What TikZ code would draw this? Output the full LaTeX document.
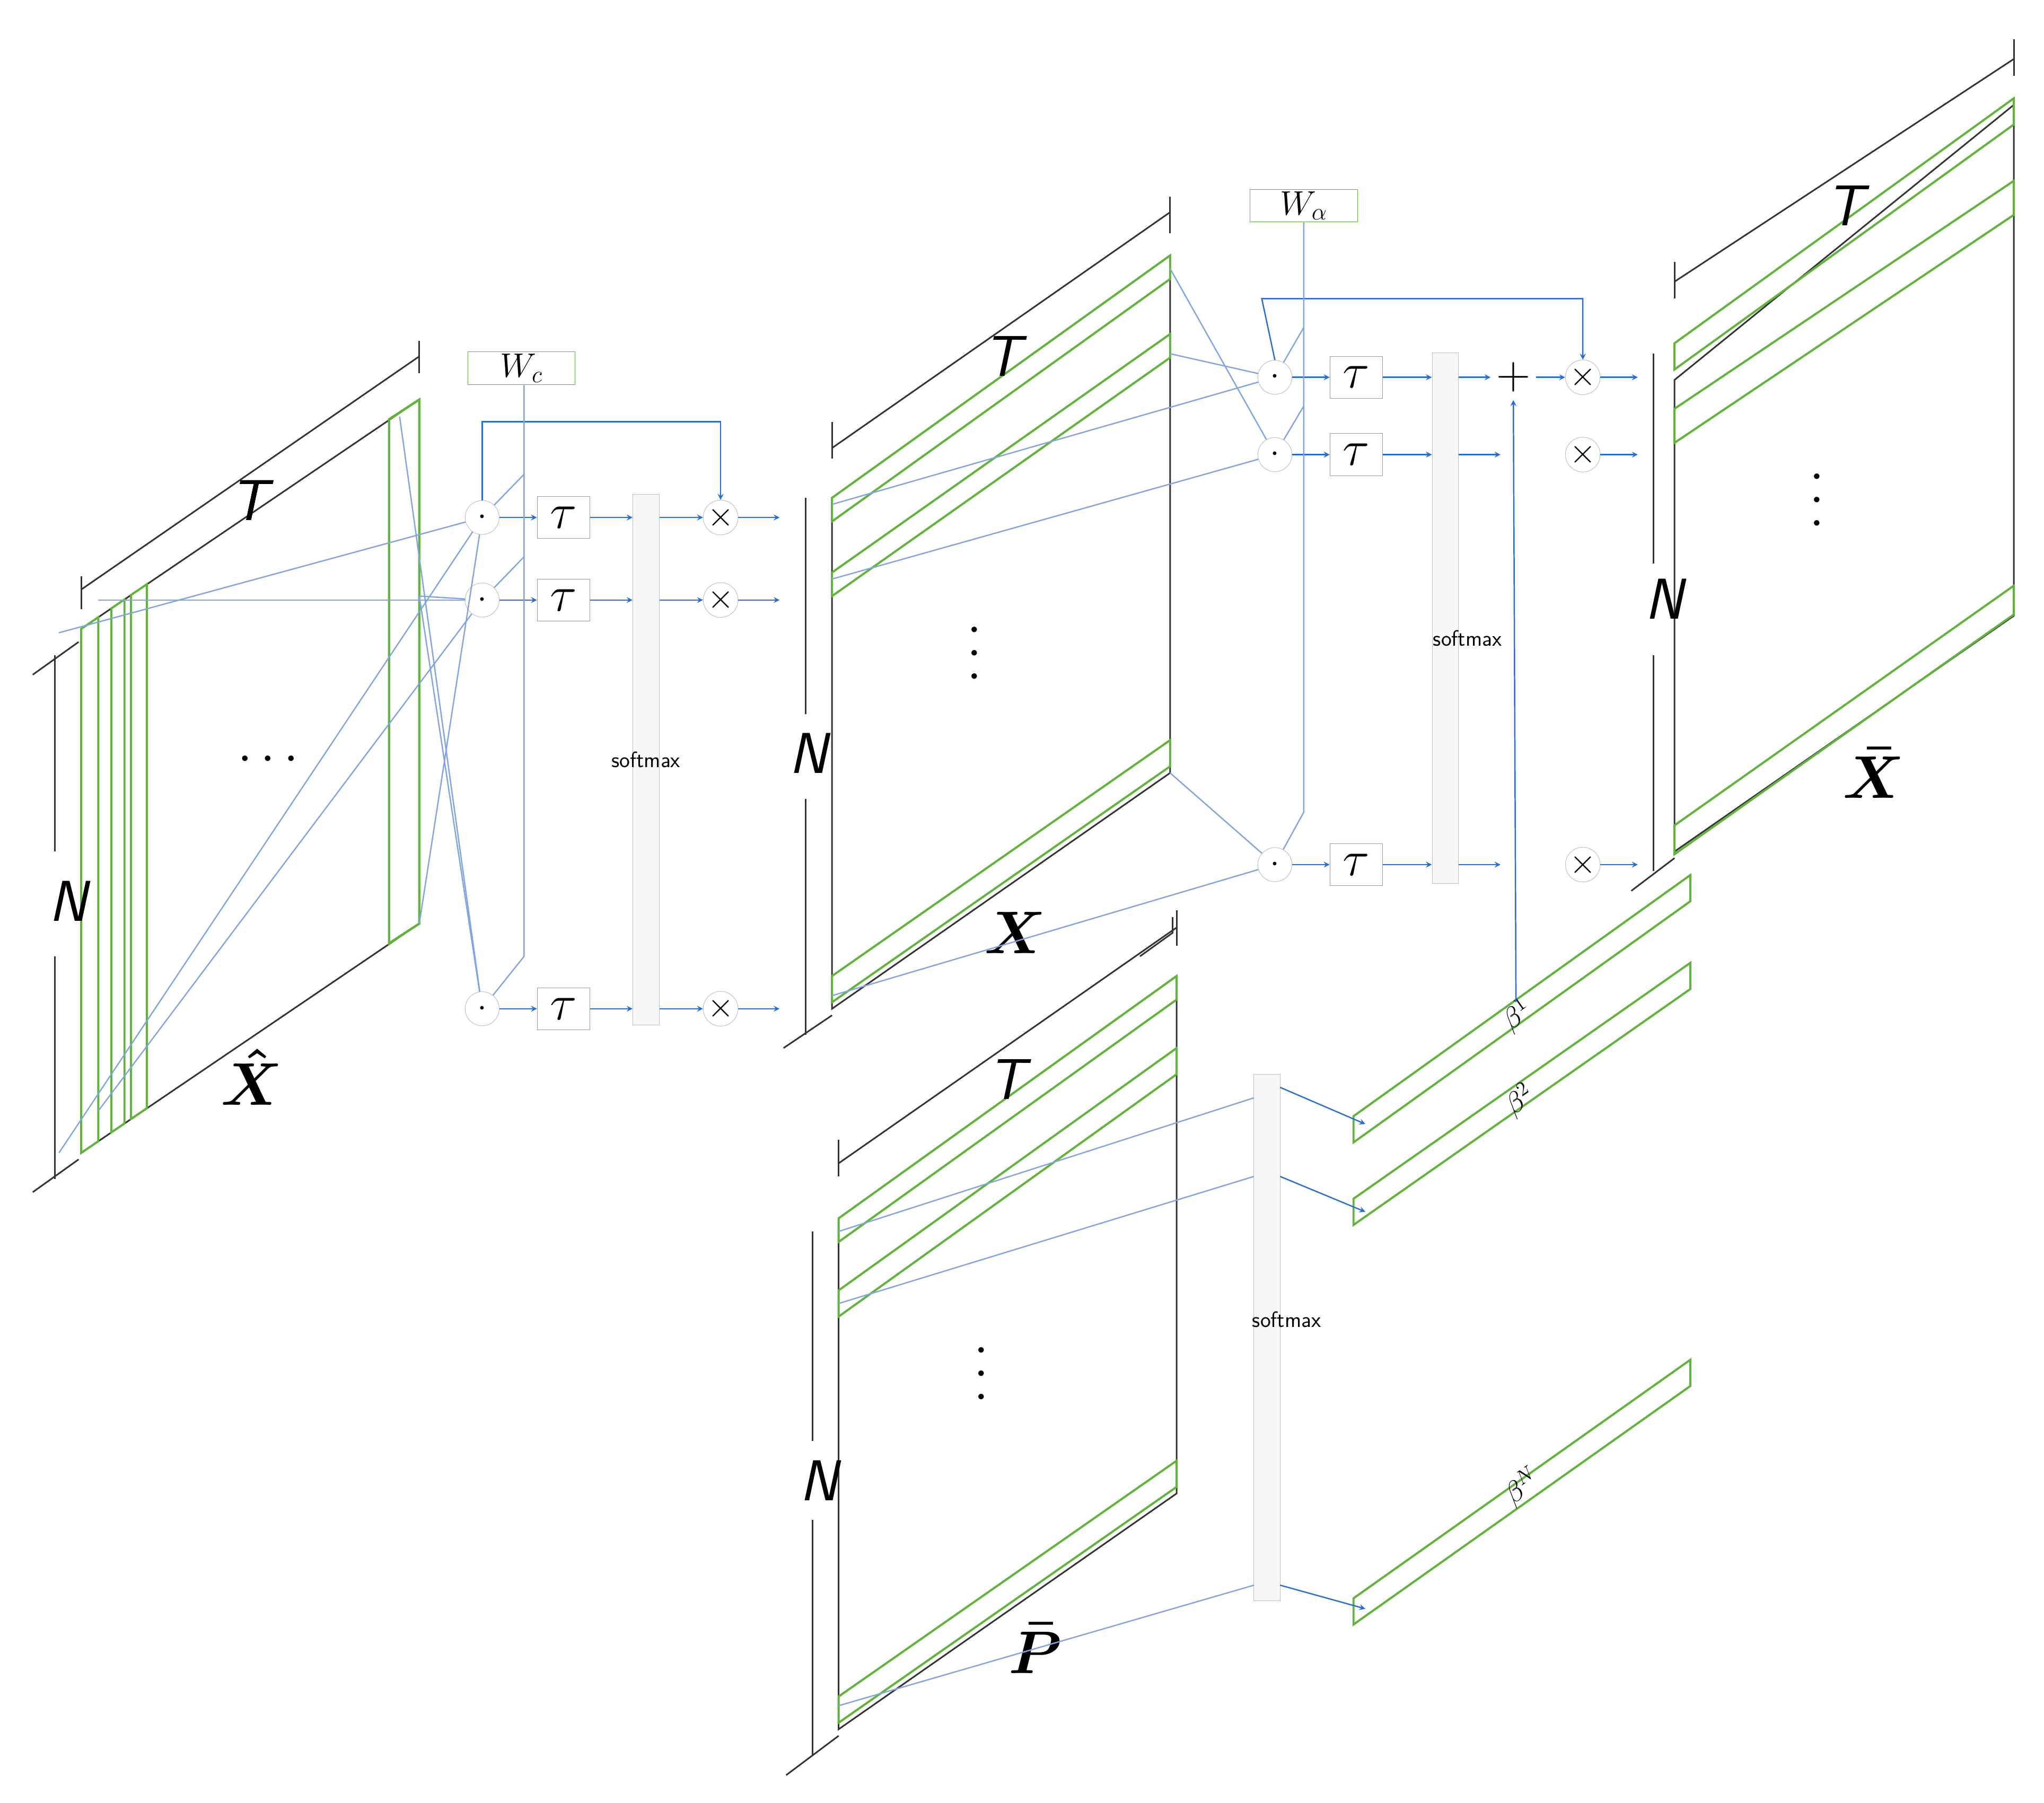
\RequirePackage{fix-cm}
\documentclass[tikz,border=0pt]{standalone}
\usepackage{amsmath}
\usepackage{graphicx}
\usetikzlibrary{calc}
\usetikzlibrary{positioning}
\definecolor{stripgreen}{RGB}{96,180,60}
\definecolor{linkblue}{RGB}{130,165,225}
\definecolor{arrblue}{RGB}{40,110,210}
\newcommand{\gstrip}[5]{\draw[strip] ({#1},{#2}) -- ({#3},{#4}) -- ({#3},{#4+#5}) -- ({#1},{#2+#5}) -- cycle;}
\newcommand{\fs}[1]{\fontsize{#1}{#1}\selectfont}
\newcommand{\vdts}{\rotatebox{90}{$\cdots$}}
\begin{document}
\begin{tikzpicture}[
		x=1pt,y=-1pt,
		>=stealth,
		frame/.style={draw=black!80,line width=1.2pt},
		strip/.style={draw=stripgreen,line width=1.6pt},
		link/.style={draw=linkblue,line width=1pt},
		arr/.style={->,draw=arrblue,line width=1pt},
		op/.style={draw=black!25,fill=white,circle,minimum size=26pt,inner sep=0pt,font=\fs{26}},
		tau/.style={draw=black!40,fill=white,minimum width=40pt,minimum height=32pt,inner sep=0pt,font=\fs{38}},
		bar/.style={draw=black!25,fill=black!3,minimum width=20pt,inner sep=0pt},
		bartext/.style={font=\fs{17}\sffamily,inner sep=0pt},
		wbox/.style={draw=stripgreen,fill=white,minimum width=82pt,minimum height=25pt,inner sep=0pt,font=\fs{26}},
		lab/.style={font=\fs{44}\sffamily\itshape},
		big/.style={font=\fs{46}},
		dots/.style={font=\fs{40},inner sep=0pt},
		beta/.style={font=\fs{22},rotate=35}
	]
	\useasboundingbox (0,0) rectangle (1560,1376);
	% X hat
	\draw[frame] (62,480) -- (320,305) -- (320,705) -- (62,880) -- cycle;
	\draw[frame] (62,450) -- (320,272); \draw[frame] (62,440) -- (62,465); \draw[frame] (320,260) -- (320,285);
	\draw[frame] (42,500) -- (42,650); \draw[frame] (42,730) -- (42,900);
	\draw[frame] (25,515) -- (60,490); \draw[frame] (25,910) -- (60,885);
	\foreach \x/\w in {62/13,85/10,100/12}
		\gstrip{\x}{480-0.68*(\x-62)}{\x+\w}{480-0.68*(\x+\w-62)}{400}
	\gstrip{297}{320}{320}{305}{400}
	\node[lab] (xhT) at (190,382) {T};
	\node[lab] (xhN) at (52,688) {N};
	\node[big] (xhX) at (192,822) {$\boldsymbol{\hat{X}}$};
	\node[dots] at (208,580) {$\cdots$};
	% X
	\draw[frame] (635,380) -- (893,195) -- (893,590) -- (635,770) -- cycle;
	\draw[frame] (635,342) -- (893,162); \draw[frame] (635,322) -- (635,350); \draw[frame] (893,150) -- (893,178);
	\draw[frame] (615,380) -- (615,545); \draw[frame] (615,610) -- (615,790);
	\draw[frame] (598,800) -- (635,775); \draw[frame] (870,730) -- (895,712) -- (895,700);
	\gstrip{635}{380}{893}{195}{18}
	\gstrip{635}{437}{893}{255}{18}
	\gstrip{635}{745}{893}{565}{20}
	\node[lab] (xT) at (765,272) {T};
	\node[lab] (xN) at (617,575) {N};
	\node[big] (xX) at (775,712) {$\boldsymbol{X}$};
	\node[dots] at (745,495) {\vdts};
	% X bar
	\draw[frame] (1278,290) -- (1537,80) -- (1537,470) -- (1278,650) -- cycle;
	\draw[frame] (1278,215) -- (1537,45); \draw[frame] (1278,200) -- (1278,228); \draw[frame] (1537,30) -- (1537,58);
	\draw[frame] (1262,270) -- (1262,430); \draw[frame] (1262,500) -- (1262,665);
	\draw[frame] (1245,680) -- (1278,655);
	\gstrip{1278}{262}{1537}{75}{20}
	\gstrip{1278}{312}{1537}{138}{26}
	\gstrip{1278}{630}{1537}{447}{22}
	\node[lab] (xbT) at (1408,157) {T};
	\node[lab] (xbN) at (1270,457) {N};
	\node[big] (xbX) at (1430,590) {$\boldsymbol{\bar{X}}$};
	\node[dots] at (1388,378) {\vdts};
	% P bar
	\draw[frame] (640,930) -- (898,745) -- (898,1140) -- (640,1320) -- cycle;
	\draw[frame] (640,888) -- (898,708); \draw[frame] (640,870) -- (640,898); \draw[frame] (898,695) -- (898,722);
	\draw[frame] (620,940) -- (620,1100); \draw[frame] (620,1160) -- (620,1340);
	\draw[frame] (600,1355) -- (640,1325);
	\gstrip{640}{930}{898}{745}{18}
	\gstrip{640}{985}{898}{800}{20}
	\gstrip{640}{1295}{898}{1115}{20}
	\node[lab] (pT) at (768,824) {T};
	\node[lab] (pN) at (625,1130) {N};
	\node[big] (pP) at (790,1258) {$\boldsymbol{\bar{P}}$};
	\node[dots] at (750,1045) {\vdts};
	% beta strips
	\gstrip{1033}{852}{1290}{668}{20}
	\gstrip{1033}{915}{1290}{735}{20}
	\gstrip{1033}{1220}{1290}{1038}{20}
	\node[beta] (b1) at (1158,775) {$\beta^1$};
	\node[beta] (b2) at (1160,840) {$\beta^2$};
	\node[beta] (bN) at (1162,1135) {$\beta^N$};
	% left attention
	\node[wbox] (wc) at (398,281) {$W_c$};
	\node[op] (c1) at (368,395) {$\cdot$};
	\node[op] (c2) at (368,458) {$\cdot$};
	\node[op] (c3) at (368,770) {$\cdot$};
	\node[tau] (t1) at (430,395) {$\tau$};
	\node[tau] (t2) at (430,458) {$\tau$};
	\node[tau] (t3) at (430,770) {$\tau$};
	\node[bar,minimum height=405pt] (sm1) at (493,580) {};
	\node[bartext] at (sm1) {softmax};
	\node[op] (m1) at (550,395) {$\times$};
	\node[op] (m2) at (550,458) {$\times$};
	\node[op] (m3) at (550,770) {$\times$};
	\foreach \i in {1,2,3} {
		\draw[arr] (c\i) -- (t\i);
		\draw[arr] (t\i.east) -- (t\i.east -| sm1.west);
		\draw[arr] (m\i -| sm1.east) -- (m\i);
		\draw[arr] (m\i) -- ++(45,0);
	}
	\draw[arr] (c1.north) -- (368,322) -- (550,322) -- (m1.north);
	\draw[link] (400,294) -- (400,730) -- (c3);
	\draw[link] (400,362) -- (c1); \draw[link] (400,425) -- (c2);
	\draw[link] (45,483) -- (c1); \draw[link] (75,458) -- (c2);
	\draw[link] (45,880) -- (c1); \draw[link] (75,848) -- (c2);
	\draw[link] (305,318) -- (c3); \draw[link] (320,705) -- (c1);
	\draw[link] (320,455) -- (c3); \draw[link] (320,455) -- (c2);
	% right attention
	\node[wbox] (wa) at (995,157) {$W_\alpha$};
	\node[op] (d1) at (973,288) {$\cdot$};
	\node[op] (d2) at (973,347) {$\cdot$};
	\node[op] (d3) at (973,660) {$\cdot$};
	\node[tau] (u1) at (1035,288) {$\tau$};
	\node[tau] (u2) at (1035,347) {$\tau$};
	\node[tau] (u3) at (1035,660) {$\tau$};
	\node[bar,minimum height=405pt] (sm2) at (1103,472) {};
	\node[bartext] at (1120,487) {softmax};
	\node[op,draw=none,font=\fs{36}] (pl) at (1155,288) {$+$};
	\node[op] (n1) at (1208,288) {$\times$};
	\node[op] (n2) at (1208,347) {$\times$};
	\node[op] (n3) at (1208,660) {$\times$};
	\foreach \i in {1,2,3} {
		\draw[arr] (d\i) -- (u\i);
		\draw[arr] (u\i.east) -- (u\i.east -| sm2.west);
		\draw[arr] (n\i) -- ++(42,0);
	}
	\draw[arr] (sm2.east |- pl) -- (pl); \draw[arr] (pl) -- (n1);
	\draw[arr] (sm2.east |- n2) -- ++(32,0); \draw[arr] (sm2.east |- n3) -- ++(32,0);
	\draw[arr] (d1.north) -- (963,228) -- (1208,228) -- (n1.north);
	\draw[link] (wa.south) -- (995,620) -- (d3);
	\draw[link] (995,250) -- (d1); \draw[link] (995,310) -- (d2);
	\draw[arr] (1157,765) -- (pl.south);
	\draw[link] (893,205) -- (d2); \draw[link] (893,270) -- (d1);
	\draw[link] (893,590) -- (d3);
	\draw[link] (635,385) -- (d1); \draw[link] (635,442) -- (d2); \draw[link] (635,760) -- (d3);
	% bottom softmax
	\node[bar,minimum height=402pt] (sm3) at (967,1021) {};
	\node[bartext] at (982,1007) {softmax};
	\draw[link] (640,940) -- (957,838); \draw[link] (640,995) -- (957,898); \draw[link] (640,1302) -- (957,1210);
	\draw[arr] (977,830) -- (1042,858); \draw[arr] (977,898) -- (1042,925); \draw[arr] (977,1210) -- (1042,1228);
\end{tikzpicture}
\end{document}
